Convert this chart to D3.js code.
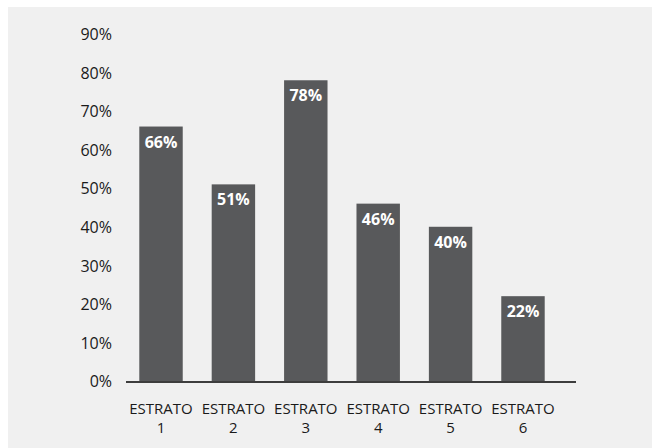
<!DOCTYPE html>
<html><head><meta charset="utf-8">
<script src="https://cdn.jsdelivr.net/npm/d3@7"></script>
<style>
html,body{margin:0;padding:0;background:#fff;}
svg{display:block;}
text{font-family:"Open Sans",sans-serif;}
</style></head>
<body>
<svg id="chart" width="652" height="448"></svg>
<script>
const categories = ["ESTRATO 1","ESTRATO 2","ESTRATO 3","ESTRATO 4","ESTRATO 5","ESTRATO 6"];
const values = [66, 51, 78, 46, 40, 22];
const yTicks = [0,10,20,30,40,50,60,70,80,90];

const svg = d3.select("#chart");
svg.append("rect").attr("x",8).attr("y",7).attr("width",644).attr("height",441).attr("fill","#f0f0f0");

const y = d3.scaleLinear().domain([0,90]).range([381,34]);
const x = d3.scaleBand().domain(categories).range([104,580]).paddingInner(0.4).paddingOuter(0.4875);

// y axis labels
const ya = svg.append("g").attr("transform","translate(112,0)")
  .call(d3.axisLeft(y).tickValues(yTicks).tickSize(0).tickPadding(0).tickFormat(d=>d+"%"));
ya.select(".domain").remove();
ya.selectAll("text").attr("font-size",16).attr("fill","#1a1a1a").attr("font-family","'Open Sans',sans-serif").attr("dy","0.36em");

// bars
svg.selectAll("rect.bar").data(values).join("rect").attr("class","bar")
  .attr("x",(d,i)=>x(categories[i])).attr("width",x.bandwidth())
  .attr("y",d=>y(d)).attr("height",d=>y(0)-y(d)).attr("fill","#58595b");

// value labels
svg.selectAll("text.val").data(values).join("text").attr("class","val")
  .attr("x",(d,i)=>x(categories[i])+x.bandwidth()/2).attr("y",d=>y(d)+21)
  .attr("text-anchor","middle").attr("font-size",16).attr("font-weight","bold").attr("fill","#fff")
  .text(d=>d+"%");

// x axis line
svg.append("line").attr("x1",126).attr("x2",576).attr("y1",y(0)+1).attr("y2",y(0)+1)
  .attr("stroke","#3d3d3d").attr("stroke-width",2);

// category labels
const cl = svg.selectAll("text.cat").data(categories).join("text").attr("class","cat")
  .attr("x",d=>x(d)+x.bandwidth()/2).attr("y",414)
  .attr("text-anchor","middle").attr("font-size",15).attr("fill","#1a1a1a");
cl.each(function(d){
  const parts = d.split(" ");
  const t = d3.select(this);
  const cx = t.attr("x");
  t.append("tspan").attr("x",cx).text(parts[0]);
  t.append("tspan").attr("x",cx).attr("dy",19).text(parts[1]);
});
</script>
</body></html>
